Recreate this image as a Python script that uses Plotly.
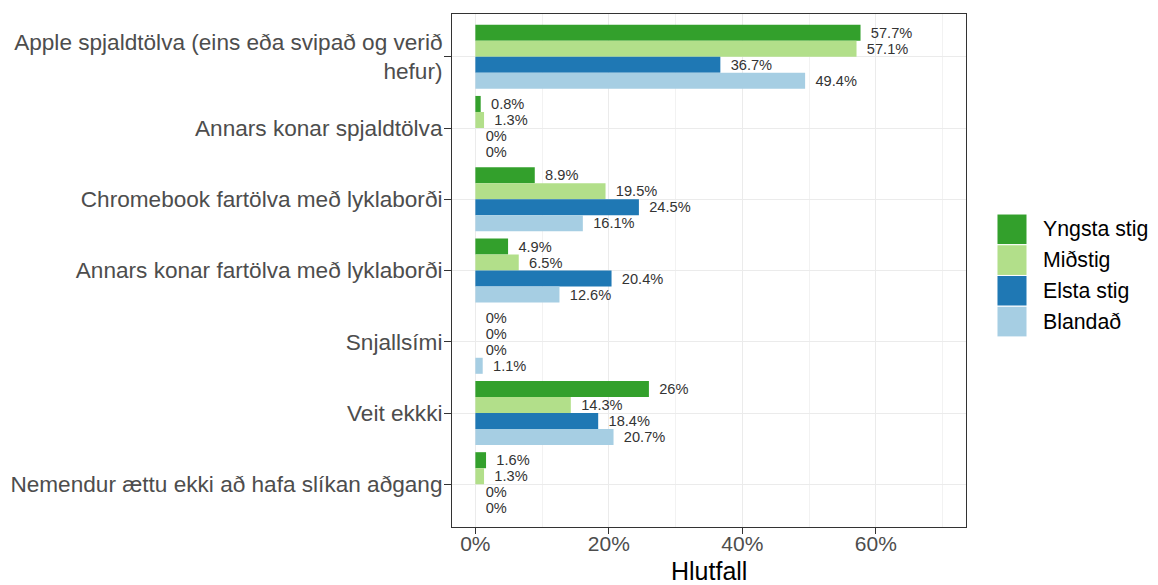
import plotly.graph_objects as go

categories = [
    "Apple spjaldtölva (eins eða svipað og verið<br>hefur)",
    "Annars konar spjaldtölva",
    "Chromebook fartölva með lyklaborði",
    "Annars konar fartölva með lyklaborði",
    "Snjallsími",
    "Veit ekkki",
    "Nemendur ættu ekki að hafa slíkan aðgang",
]
series_names = ["Yngsta stig", "Miðstig", "Elsta stig", "Blandað"]
yngsta = [57.7, 0.8, 8.9, 4.9, 0, 26, 1.6]
midstig = [57.1, 1.3, 19.5, 6.5, 0, 14.3, 1.3]
elsta = [36.7, 0, 24.5, 20.4, 0, 18.4, 0]
blandad = [49.4, 0, 16.1, 12.6, 1.1, 20.7, 0]
series_values = [yngsta, midstig, elsta, blandad]
colors = ["#33a02c", "#b2df8a", "#1f78b4", "#a6cee3"]
x_tickvals = [0, 20, 40, 60]
x_ticktext = [f"{v}%" for v in x_tickvals]

FONT = "Liberation Sans, Arial, sans-serif"

fig = go.Figure()
for name, vals, col in zip(series_names, series_values, colors):
    fig.add_trace(go.Bar(
        y=categories, x=vals, name=name, orientation="h",
        marker=dict(color=col, line=dict(width=0)),
        text=[f"{v:g}%" for v in vals],
        texttemplate="\u2002%{text}",
        textposition="outside",
        textfont=dict(size=15.5, color="#333333", family=FONT),
        cliponaxis=False,
        showlegend=False,
    ))

# manual ggplot-style legend
key_top = 0.6101
key_h = 0.0599
for i, (name, col) in enumerate(zip(series_names, colors)):
    y1 = key_top - i * key_h
    y0 = y1 - key_h
    fig.add_shape(type="rect", xref="paper", yref="paper",
                  x0=1.0603, x1=1.1187, y0=y0, y1=y1,
                  fillcolor=col, line=dict(color="white", width=1))
    fig.add_annotation(xref="paper", yref="paper", x=1.145, y=(y0 + y1) / 2,
                       text=name, showarrow=False, xanchor="left", yanchor="middle",
                       font=dict(size=21.3, color="#000000", family=FONT))

# x-axis title
fig.add_annotation(xref="paper", yref="paper", x=0.5, y=0, yshift=-44,
                   text="Hlutfall", showarrow=False, xanchor="center", yanchor="middle",
                   font=dict(size=25, color="#000000", family=FONT))

fig.update_layout(
    width=1150, height=577,
    barmode="group", bargap=0.1, bargroupgap=0,
    plot_bgcolor="white", paper_bgcolor="white",
    margin=dict(l=444, r=192, t=6, b=58),
    font=dict(family=FONT),
    showlegend=False,
)
fig.update_xaxes(
    range=[-3.5, 73.5], tickvals=x_tickvals, ticktext=x_ticktext,
    showgrid=True, gridcolor="#EBEBEB", gridwidth=1.2,
    minor=dict(dtick=10, tick0=0, showgrid=True, gridcolor="#F2F2F2", gridwidth=0.7),
    zeroline=False, showline=True, mirror=True, linecolor="#333333", linewidth=1,
    ticks="outside", ticklen=6, tickcolor="#333333",
    ticklabelstandoff=-8,
    tickfont=dict(size=21, color="#4D4D4D", family=FONT),
    automargin=False,
)
fig.update_yaxes(
    type="category", range=[6.6, -0.6],
    showgrid=True, gridcolor="#EBEBEB", gridwidth=1.2,
    zeroline=False, showline=True, mirror=True, linecolor="#333333", linewidth=1,
    ticks="outside", ticklen=7, tickcolor="#333333",
    ticklabelstandoff=-3,
    tickfont=dict(size=22.6, color="#4D4D4D", family=FONT),
    automargin=False,
)

fig.write_html("out.html")
